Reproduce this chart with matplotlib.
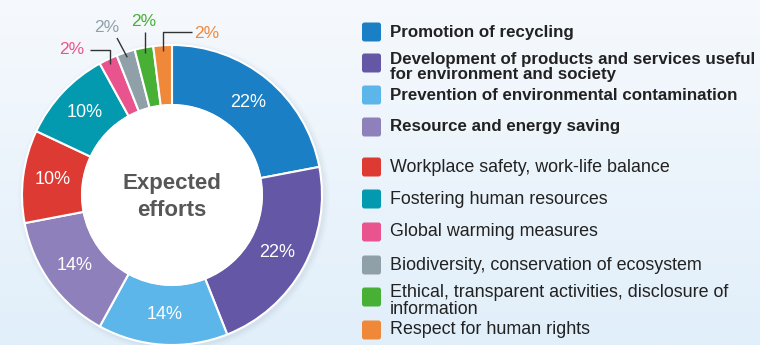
import numpy as np
import matplotlib.pyplot as plt
from matplotlib.colors import LinearSegmentedColormap
from matplotlib.patches import Circle, FancyBboxPatch

plt.rcParams['font.family'] = ['Liberation Sans', 'DejaVu Sans']

categories = [
    "Promotion of recycling",
    "Development of products and services useful\nfor environment and society",
    "Prevention of environmental contamination",
    "Resource and energy saving",
    "Workplace safety, work-life balance",
    "Fostering human resources",
    "Global warming measures",
    "Biodiversity, conservation of ecosystem",
    "Ethical, transparent activities, disclosure of\ninformation",
    "Respect for human rights",
]
values = [22, 22, 14, 14, 10, 10, 2, 2, 2, 2]
colors = ["#1a7fc4", "#6457a5", "#5db6e9", "#8e80bb", "#dc3a32",
          "#0399ae", "#e9548e", "#8fa0a8", "#47b035", "#f0883a"]
bold_items = [True, True, True, True, False, False, False, False, False, False]
legend_y = [313, 282, 250, 218, 178, 146, 113, 80, 48, 15]

# donut geometry (pixel units, y up)
cx, cy, R, ring = 172, 150, 150, 60

fig = plt.figure(figsize=(7.6, 3.45), dpi=100)
ax = fig.add_axes([0, 0, 1, 1])

# soft background gradient
grad = np.linspace(0, 1, 256).reshape(-1, 1)
bg = LinearSegmentedColormap.from_list("bg", ["#f6f9fd", "#e1effa"])
ax.imshow(grad, extent=[0, 760, 0, 345], aspect='auto', cmap=bg, zorder=0)

# faint shadow behind the ring
for i, a in enumerate([0.05, 0.04, 0.03, 0.02]):
    ax.add_patch(Circle((cx + 2, cy - 2), R + 1.5 + i * 1.5, color="#7f93a8",
                        alpha=a, lw=0, zorder=1))

wedges, _ = ax.pie(values, colors=colors, startangle=90, counterclock=False,
                   radius=R, center=(cx, cy),
                   wedgeprops=dict(width=ring, edgecolor='white', linewidth=1.5))
for w in wedges:
    w.set_zorder(2)
ax.add_patch(Circle((cx, cy), R - ring, color='white', zorder=3))

ax.text(cx, cy + 12, "Expected", ha='center', va='center', fontsize=16,
        fontweight='bold', color='#575757', zorder=4)
ax.text(cx, cy - 15, "efforts", ha='center', va='center', fontsize=16,
        fontweight='bold', color='#575757', zorder=4)

# percentage labels
total = sum(values)
cum = np.cumsum([0] + values)
mids = [np.deg2rad(90 - (cum[i] + values[i] / 2) / total * 360) for i in range(len(values))]

# callouts for the thin slices: (text x, text y, ha, path the leader runs through)
callouts = {
    6: (84, 295, 'right', [(None, 295), (90, 295)]),
    7: (107, 318, 'center', [(117, 307)]),
    8: (144, 323, 'center', [(None, 313)]),
    9: (194, 312, 'left', [(None, 313), (192, 313)]),
}

for i, v in enumerate(values):
    label = f"{v}%"
    if i in callouts:
        tx, ty, ha, path = callouts[i]
        x0 = cx + 0.965 * R * np.cos(mids[i])
        y0 = cy + 0.965 * R * np.sin(mids[i])
        xs, ys = [x0], [y0]
        for px, py in path:
            xs.append(x0 if px is None else px)
            ys.append(py)
        ax.plot(xs, ys, color='#333333', lw=1, zorder=5, solid_capstyle='butt')
        ax.text(tx, ty, label, ha=ha, va='center', fontsize=12.5,
                color=colors[i], zorder=5)
    else:
        r = 0.8 * R
        ax.text(cx + r * np.cos(mids[i]), cy + r * np.sin(mids[i]), label,
                ha='center', va='center', fontsize=13, color='white', zorder=5)

# legend
for cat, col, b, y in zip(categories, colors, bold_items, legend_y):
    ax.add_patch(FancyBboxPatch((362, y - 9.5), 19, 19,
                                boxstyle="round,pad=0,rounding_size=2.5",
                                fc=col, ec='none', zorder=4))
    ax.text(390, y - 4 if "\n" in cat else y, cat, ha='left', va='center',
            fontsize=12.2 if b else 12.9, fontweight='bold' if b else 'normal',
            color='#222222', linespacing=0.95, zorder=4)

ax.set_xlim(0, 760)
ax.set_ylim(0, 345)
ax.set_aspect('auto')
ax.axis('off')

fig.savefig("out.png", dpi=100)
